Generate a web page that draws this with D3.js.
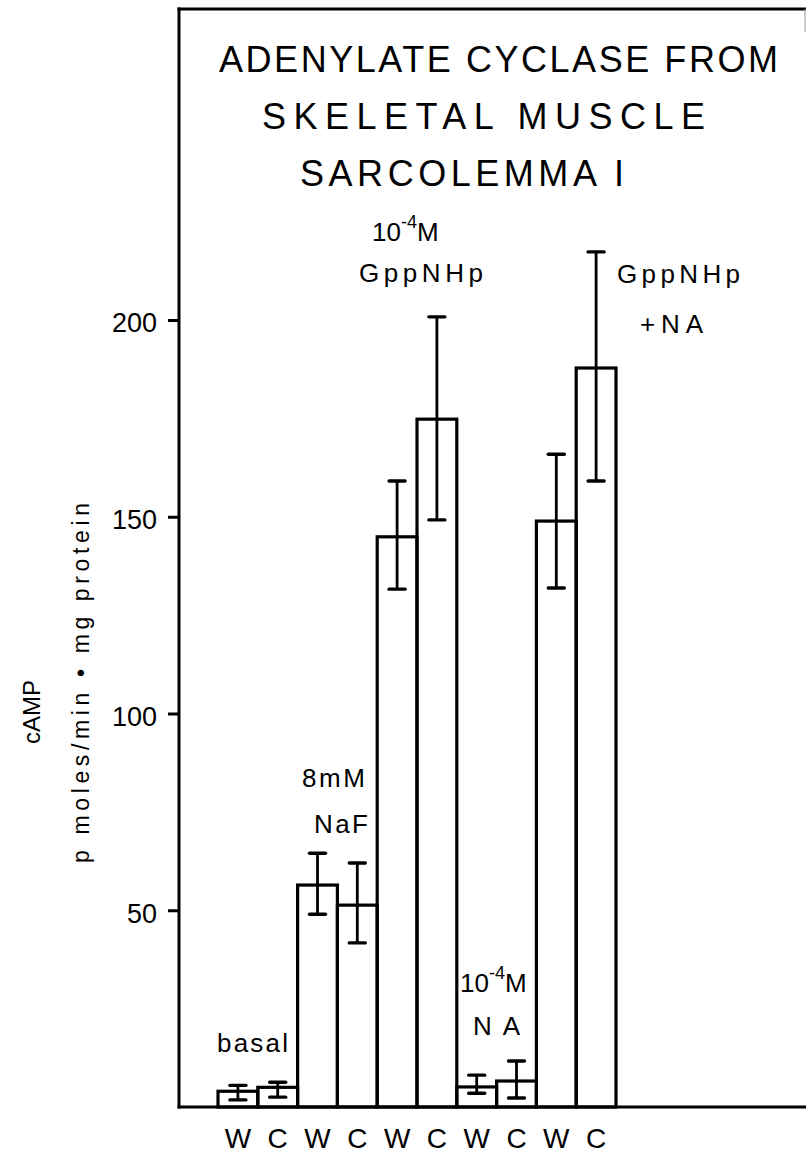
<!DOCTYPE html>
<html>
<head>
<meta charset="utf-8">
<script src="https://cdn.jsdelivr.net/npm/d3@7"></script>
<style>
  html, body { margin: 0; padding: 0; background: #fff; }
  svg { display: block; }
  text { font-family: "Liberation Sans", Arial, sans-serif; fill: #000; }
</style>
</head>
<body>
<svg id="chart" width="806" height="1154"></svg>
<script>
// Adenylate cyclase activity, skeletal muscle sarcolemma fraction I
// W / C pairs for each incubation condition (pmoles cAMP / min . mg protein)
const barLabels  = ["W", "C", "W", "C", "W", "C", "W", "C", "W", "C"];
const conditions = ["basal", "basal", "NaF", "NaF", "GppNHp", "GppNHp", "NA", "NA", "GppNHp+NA", "GppNHp+NA"];
const values     = [4, 5, 56.4, 51.3, 144.9, 174.8, 5.1, 6.6, 148.9, 187.8];
const errLow     = [1.8, 2.5, 49.0, 41.7, 131.6, 149.2, 3.5, 2.3, 131.9, 159.1];
const errHigh    = [5.5, 6.3, 64.5, 62.0, 159.1, 200.8, 8.1, 11.7, 165.9, 217.3];
const yTicks     = [50, 100, 150, 200];

const svg = d3.select("#chart");

const x = d3.scaleBand()
  .domain(d3.range(values.length))
  .range([218, 616])
  .padding(0);

const y = d3.scaleLinear()
  .domain([0, 200])
  .range([1107, 320]);

// frame: left axis, top rule, baseline
const frame = svg.append("g")
  .attr("stroke", "#000")
  .attr("stroke-width", 3)
  .attr("stroke-linecap", "square");
frame.append("line").attr("x1", 179).attr("y1", 9).attr("x2", 179).attr("y2", y(0));
frame.append("line").attr("x1", 179).attr("y1", 9).attr("x2", 806).attr("y2", 9);
frame.append("line").attr("x1", 179).attr("y1", y(0)).attr("x2", 806).attr("y2", y(0));
svg.append("line")
  .attr("x1", 805).attr("y1", 9).attr("x2", 805).attr("y2", 32)
  .attr("stroke", "#999").attr("stroke-width", 1);

// y axis ticks
const yAxis = svg.append("g")
  .attr("transform", "translate(179,0)")
  .call(d3.axisLeft(y).tickValues(yTicks).tickSize(11).tickPadding(11).tickFormat(d3.format("d")));
yAxis.select(".domain").remove();
yAxis.selectAll(".tick line").attr("stroke", "#000").attr("stroke-width", 3);
yAxis.selectAll(".tick text")
  .attr("dy", "0.44em")
  .style("font-family", "'Liberation Sans', Arial, sans-serif")
  .style("font-size", "27px")
  .attr("fill", "#000");

// bars
svg.append("g")
  .selectAll("rect")
  .data(values)
  .join("rect")
  .attr("x", (d, i) => x(i))
  .attr("y", d => y(d))
  .attr("width", x.bandwidth())
  .attr("height", d => y(0) - y(d))
  .attr("fill", "none")
  .attr("stroke", "#000")
  .attr("stroke-width", 3.2);

// error bars
const err = svg.append("g").attr("stroke", "#000");
const cx = i => x(i) + x.bandwidth() / 2;
err.selectAll("line.stem")
  .data(values)
  .join("line")
  .attr("class", "stem")
  .attr("x1", (d, i) => cx(i)).attr("x2", (d, i) => cx(i))
  .attr("y1", (d, i) => y(errHigh[i])).attr("y2", (d, i) => y(errLow[i]))
  .attr("stroke-width", 2.8);
["hi", "lo"].forEach(k => {
  const src = k === "hi" ? errHigh : errLow;
  err.selectAll("line.cap-" + k)
    .data(values)
    .join("line")
    .attr("class", "cap-" + k)
    .attr("x1", (d, i) => cx(i) - 8).attr("x2", (d, i) => cx(i) + 8)
    .attr("y1", (d, i) => y(src[i])).attr("y2", (d, i) => y(src[i]))
    .attr("stroke-width", 3.4)
    .attr("stroke-linecap", "round");
});

// W / C category labels
const xAxis = svg.append("g")
  .attr("transform", `translate(0,${y(0)})`)
  .call(d3.axisBottom(x).tickSize(0).tickFormat(i => barLabels[i]));
xAxis.select(".domain").remove();
xAxis.selectAll(".tick text")
  .attr("y", 41)
  .attr("dy", 0)
  .style("font-family", "'Liberation Sans', Arial, sans-serif")
  .style("font-size", "28px")
  .attr("fill", "#000");

// title
const title = [
  { t: "ADENYLATE CYCLASE FROM", x: 219, y: 72, w: 559 },
  { t: "SKELETAL MUSCLE",        x: 262, y: 129, w: 443 },
  { t: "SARCOLEMMA I",           x: 300, y: 186, w: 324 }
];
svg.append("g").selectAll("text")
  .data(title)
  .join("text")
  .attr("x", d => d.x).attr("y", d => d.y)
  .attr("textLength", d => d.w)
  .attr("lengthAdjust", "spacing")
  .style("font-size", "36px")
  .text(d => d.t);

// y axis title
svg.append("text")
  .attr("transform", "translate(40,712) rotate(-90)")
  .attr("text-anchor", "middle")
  .style("font-size", "24px")
  .text("cAMP");
svg.append("text")
  .attr("transform", "translate(89,683) rotate(-90)")
  .attr("text-anchor", "middle")
  .attr("textLength", 360)
  .attr("lengthAdjust", "spacing")
  .style("font-size", "23px")
  .text("p moles/min \u2022 mg protein");

// condition annotations
function note(t, xPos, yPos, w) {
  const el = svg.append("text")
    .attr("x", xPos).attr("y", yPos)
    .style("font-size", "26px")
    .text(t);
  if (w) el.attr("textLength", w).attr("lengthAdjust", "spacing");
  return el;
}
function molar(xPos, yPos) {
  const el = svg.append("text")
    .attr("x", xPos).attr("y", yPos)
    .style("font-size", "26px");
  el.append("tspan").text("10");
  el.append("tspan").attr("dy", -13).style("font-size", "18px").text("-4");
  el.append("tspan").attr("dy", 13).text("M");
  return el;
}

note("basal", 217, 1052, 71);
note("8mM", 302, 787, 63);
note("NaF", 314, 833, 54);
molar(372, 241);
note("GppNHp", 359, 282, 124);
molar(460, 992);
note("NA", 473, 1035, 47);
note("GppNHp", 617, 283, 123);
note("+NA", 640, 333, 63);
</script>
</body>
</html>
